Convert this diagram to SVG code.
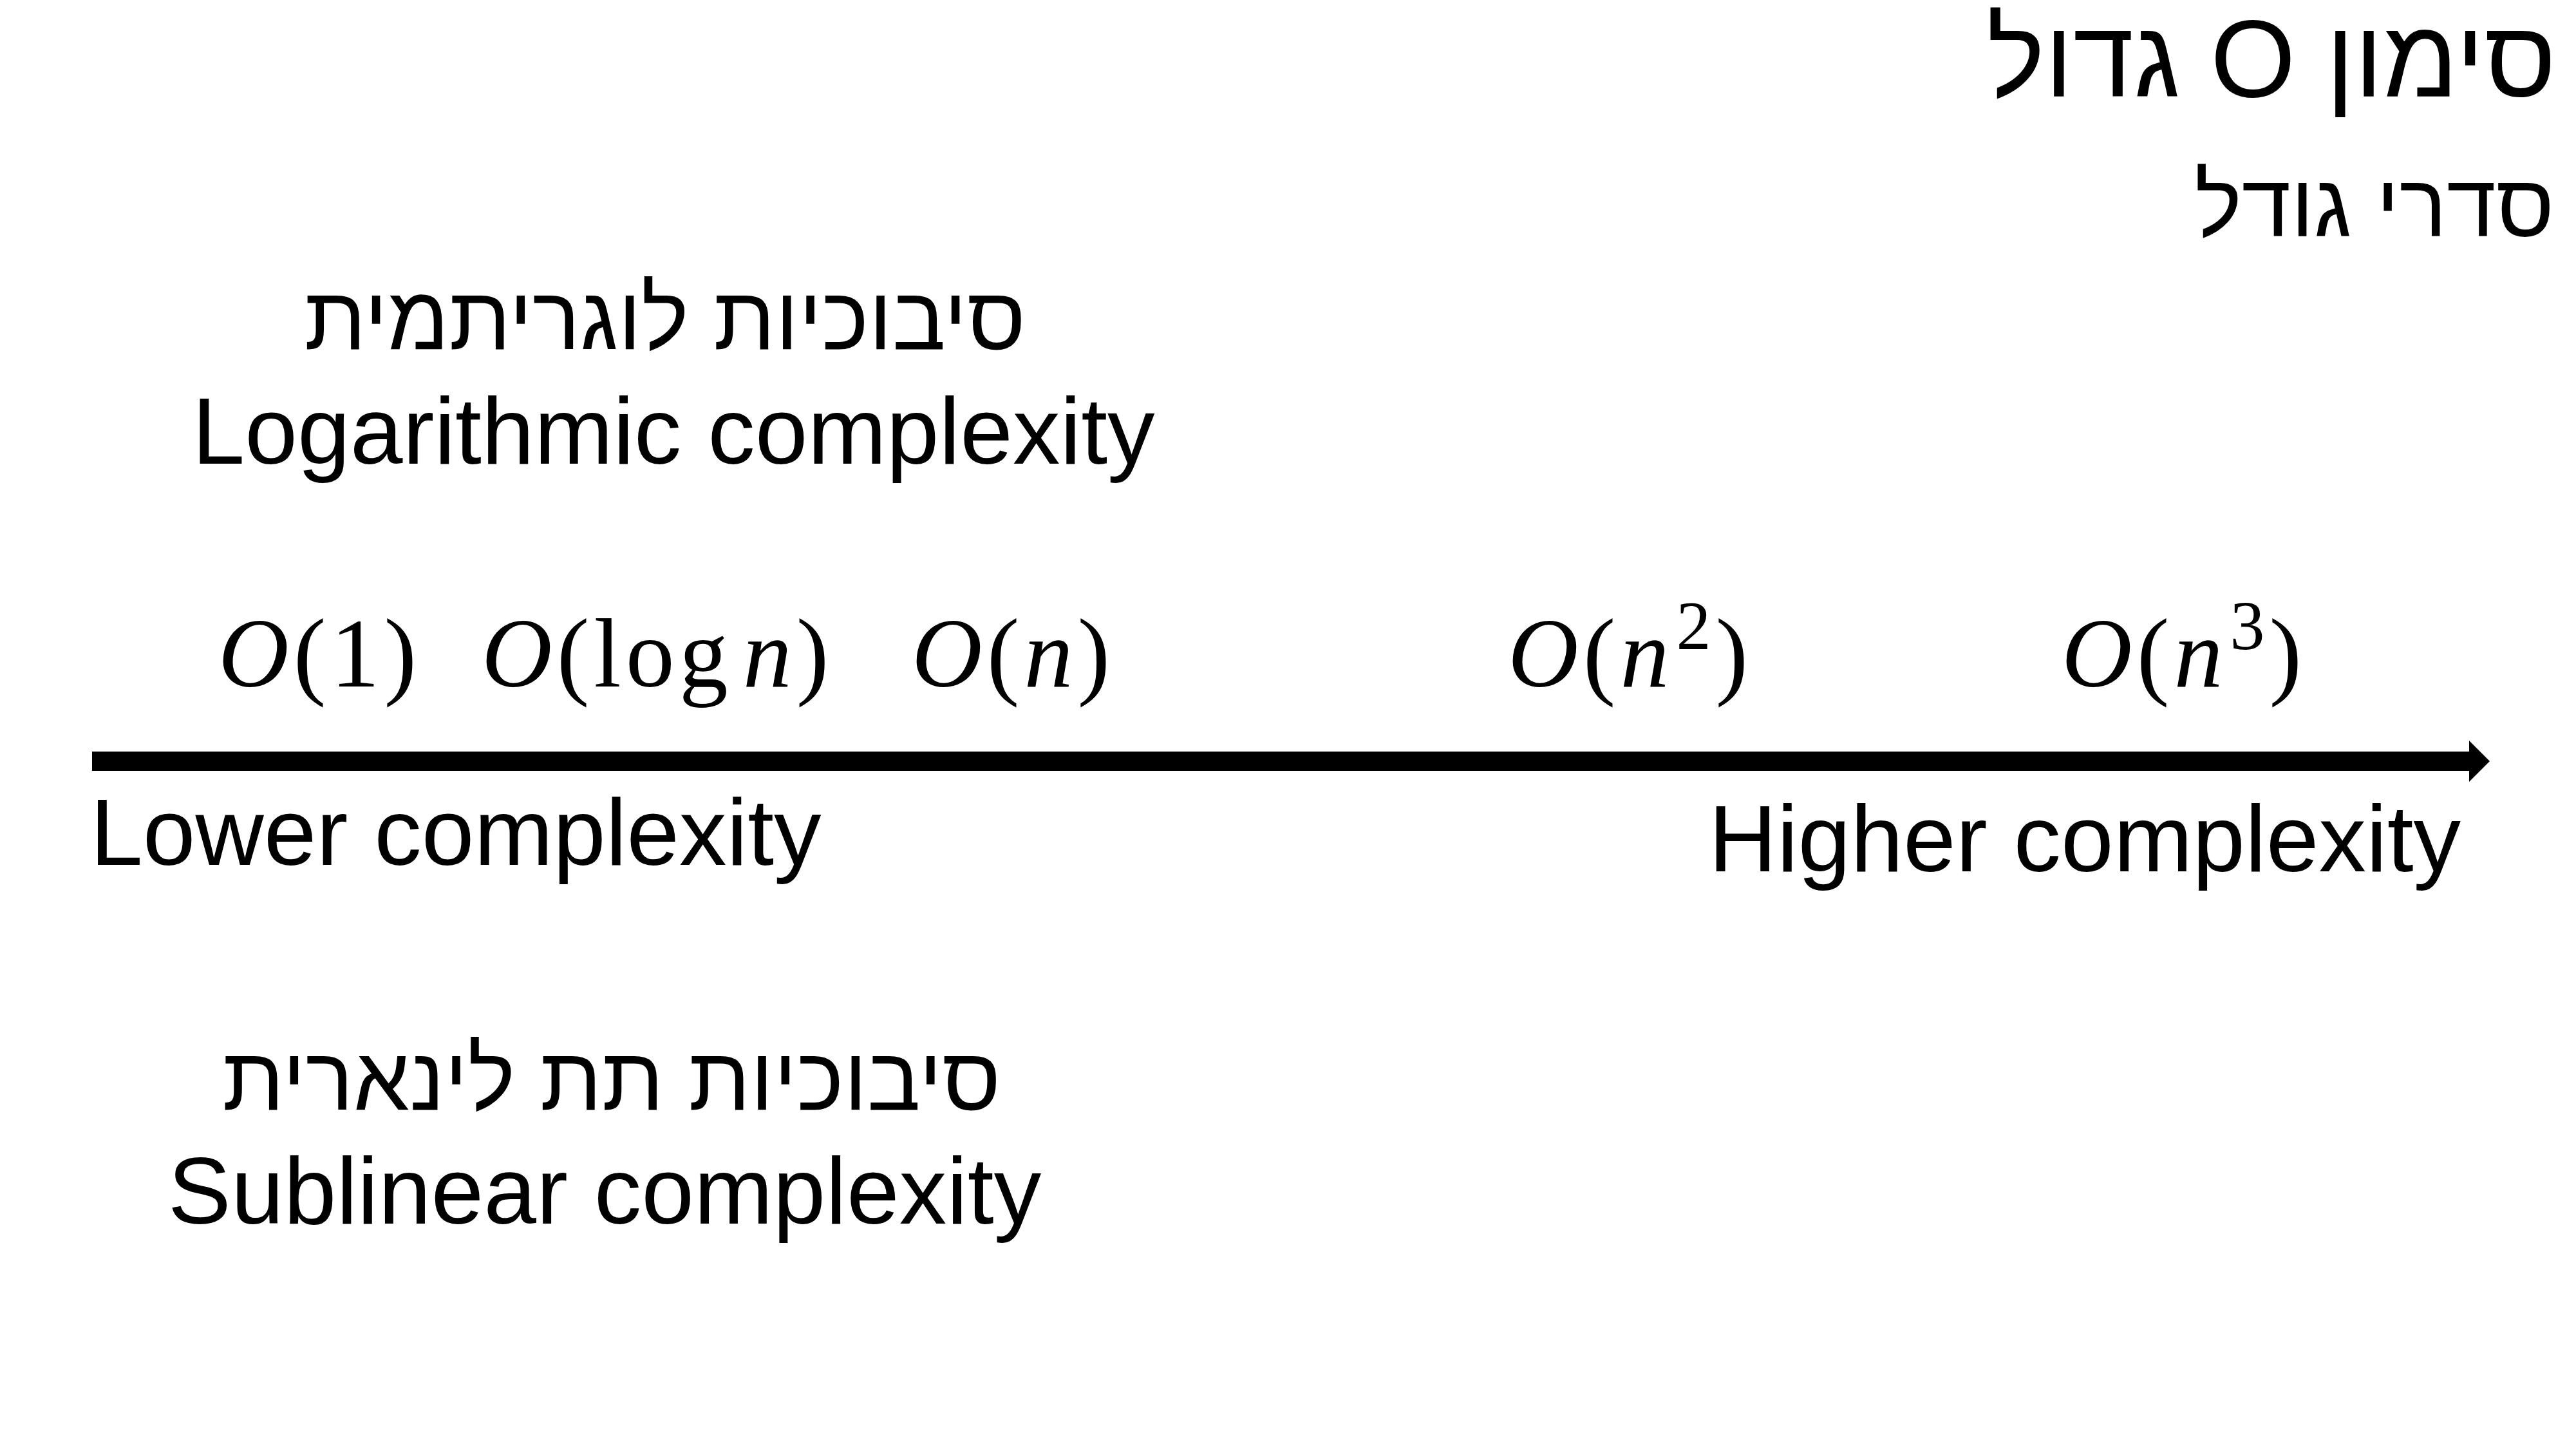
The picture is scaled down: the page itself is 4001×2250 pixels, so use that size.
<svg xmlns="http://www.w3.org/2000/svg" width="4001" height="2250" viewBox="0 0 4001 2250">
<style>
.t{font-family:"Liberation Sans","DejaVu Sans",Arial,sans-serif;fill:#000}
.en{font-size:147px}
.he{font-size:139px}
.m{font-family:"Liberation Serif","DejaVu Serif",serif;font-size:152px;fill:#000;letter-spacing:7px}
.i{font-style:italic}
.sup{font-size:108px}
</style>
<defs>
<marker id="ah" markerUnits="userSpaceOnUse" markerWidth="32" markerHeight="64" viewBox="0 0 32 64" refX="0" refY="32" orient="auto">
<path d="M0,0 L32,32 L0,64 Z" fill="#000"/>
</marker>
</defs>
<rect width="4001" height="2250" fill="#fff"/>
<g id="title">
<text class="t" x="3528" y="150" font-size="170" text-anchor="middle" direction="rtl">סימון O גדול</text>
<text class="t" x="3688" y="367" font-size="138" text-anchor="middle" direction="rtl">סדרי גודל</text>
</g>
<g id="logarithmic">
<text class="t he" x="1033" y="542" text-anchor="middle" direction="rtl">סיבוכיות לוגריתמית</text>
<text class="t en" x="1046" y="720" text-anchor="middle">Logarithmic complexity</text>
</g>
<g id="o1"><text class="m" x="339" y="1066"><tspan class="i">O</tspan>(1)</text></g>
<g id="ologn"><text class="m" x="748" y="1066"><tspan class="i">O</tspan>(log<tspan class="i" dx="16">n</tspan>)</text></g>
<g id="on"><text class="m" x="1416" y="1066"><tspan class="i">O</tspan>(<tspan class="i">n</tspan>)</text></g>
<g id="on2"><text class="m" x="2342" y="1066"><tspan class="i">O</tspan>(<tspan class="i">n</tspan><tspan class="sup" dx="4" dy="-58">2</tspan><tspan dy="58">)</tspan></text></g>
<g id="on3"><text class="m" x="3202" y="1066"><tspan class="i">O</tspan>(<tspan class="i">n</tspan><tspan class="sup" dx="4" dy="-58">3</tspan><tspan dy="58">)</tspan></text></g>
<g id="connectors">
<line x1="143" y1="1182" x2="3835" y2="1182" stroke="#000" stroke-width="30" marker-end="url(#ah)"/>
</g>
<g id="lower"><text class="t en" x="140" y="1343">Lower complexity</text></g>
<g id="higher"><text class="t en" x="3822" y="1353" text-anchor="end">Higher complexity</text></g>
<g id="sublinear">
<text class="t he" x="950" y="1723" text-anchor="middle" direction="rtl">סיבוכיות תת לינארית</text>
<text class="t en" x="939" y="1900" text-anchor="middle">Sublinear complexity</text>
</g>
</svg>
